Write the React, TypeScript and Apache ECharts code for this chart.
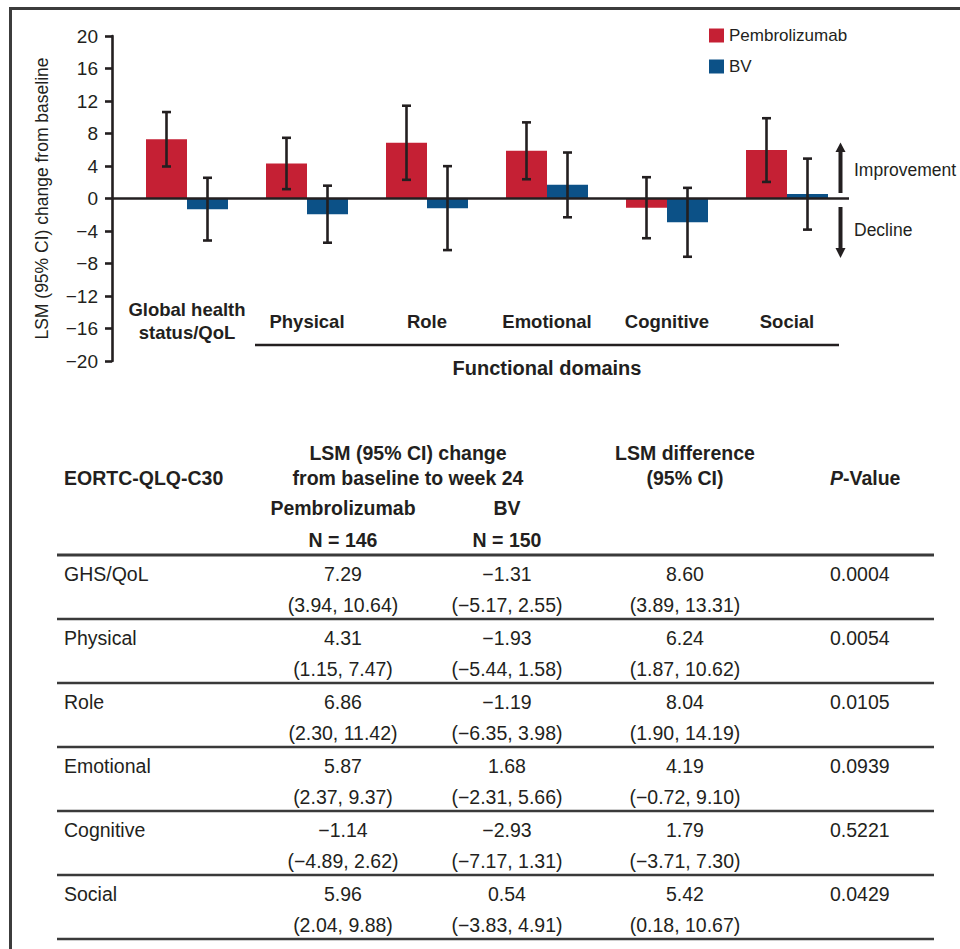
import React, { useEffect, useRef } from "react";
import * as echarts from "echarts";

const categories = ["Global health\nstatus/QoL", "Physical", "Role", "Emotional", "Cognitive", "Social"];
const tableLabels = ["GHS/QoL", "Physical", "Role", "Emotional", "Cognitive", "Social"];
const pembroMean = [7.29, 4.31, 6.86, 5.87, -1.14, 5.96];
const pembroLow = [3.94, 1.15, 2.3, 2.37, -4.89, 2.04];
const pembroHigh = [10.64, 7.47, 11.42, 9.37, 2.62, 9.88];
const bvMean = [-1.31, -1.93, -1.19, 1.68, -2.93, 0.54];
const bvLow = [-5.17, -5.44, -6.35, -2.31, -7.17, -3.83];
const bvHigh = [2.55, 1.58, 3.98, 5.66, 1.31, 4.91];
const diffMean = [8.6, 6.24, 8.04, 4.19, 1.79, 5.42];
const diffLow = [3.89, 1.87, 1.9, -0.72, -3.71, 0.18];
const diffHigh = [13.31, 10.62, 14.19, 9.1, 7.3, 10.67];
const pValues = ["0.0004", "0.0054", "0.0105", "0.0939", "0.5221", "0.0429"];
const yMin = -20;
const yMax = 20;
const yStep = 4;

const RED = "#c52034";
const BLUE = "#0c5187";
const INK = "#231f20";
const FONT = "'Liberation Sans', Arial, Helvetica, sans-serif";
const BAR_W = 41;

const fmt = (v: number) => (v < 0 ? "\u2212" : "") + Math.abs(v).toFixed(2);

function errorRender(offset: number) {
  return (params: any, api: any) => {
    const c = api.value(0);
    const lo = api.coord([c, api.value(1)]);
    const hi = api.coord([c, api.value(2)]);
    const x = lo[0] + offset;
    const st = { stroke: INK, lineWidth: 2.6 };
    return {
      type: "group",
      children: [
        { type: "line", shape: { x1: x, y1: lo[1], x2: x, y2: hi[1] }, style: st },
        { type: "line", shape: { x1: x - 4.5, y1: lo[1], x2: x + 4.5, y2: lo[1] }, style: st },
        { type: "line", shape: { x1: x - 4.5, y1: hi[1], x2: x + 4.5, y2: hi[1] }, style: st },
      ],
    };
  };
}

export default function App() {
  const ref = useRef<HTMLDivElement>(null);
  useEffect(() => {
    const chart = echarts.init(ref.current as HTMLDivElement, null, { renderer: "svg" });
    const option: any = {
      animation: false,
      backgroundColor: "#ffffff",
      textStyle: { fontFamily: FONT },
      grid: { left: 127, right: 113, top: 36, bottom: 588, containLabel: false },
      legend: {
        data: ["Pembrolizumab", "BV"],
        orient: "vertical",
        left: 709,
        top: 27,
        itemWidth: 15,
        itemHeight: 14,
        itemGap: 14,
        padding: 0,
        icon: "rect",
        textStyle: { fontSize: 17, color: INK, fontFamily: FONT },
      },
      xAxis: {
        type: "category",
        data: categories,
        axisLine: { show: false, onZero: false },
        axisTick: { show: false },
        axisLabel: {
          margin: -40,
          verticalAlign: "middle",
          fontSize: 18.5,
          fontWeight: "bold",
          color: INK,
          lineHeight: 23,
          fontFamily: FONT,
          interval: 0,
        },
        splitLine: { show: false },
      },
      yAxis: {
        type: "value",
        min: yMin,
        max: yMax,
        interval: yStep,
        offset: 15,
        name: "LSM (95% CI) change from baseline",
        nameLocation: "middle",
        nameGap: 61,
        nameTextStyle: { fontSize: 17.5, color: INK, fontFamily: FONT },
        axisLine: { show: true, lineStyle: { color: INK, width: 2.6 } },
        axisTick: { show: true, length: 7, lineStyle: { color: INK, width: 2.6 } },
        axisLabel: {
          margin: 14,
          fontSize: 19,
          color: INK,
          fontFamily: FONT,
          formatter: (v: number) => (v < 0 ? "\u2212" + Math.abs(v) : String(v)),
        },
        splitLine: { show: false },
      },
      series: [
        {
          name: "Pembrolizumab",
          type: "bar",
          data: pembroMean,
          barWidth: BAR_W,
          barGap: "0%",
          itemStyle: { color: RED },
          z: 2,
        },
        {
          name: "BV",
          type: "bar",
          data: bvMean,
          barWidth: BAR_W,
          barGap: "0%",
          itemStyle: { color: BLUE },
          z: 2,
        },
        {
          name: "Pembrolizumab CI",
          type: "custom",
          renderItem: errorRender(-BAR_W / 2),
          data: pembroMean.map((_, i) => [i, pembroLow[i], pembroHigh[i]]),
          encode: { x: 0, y: [1, 2] },
          z: 5,
        },
        {
          name: "BV CI",
          type: "custom",
          renderItem: errorRender(BAR_W / 2),
          data: bvMean.map((_, i) => [i, bvLow[i], bvHigh[i]]),
          encode: { x: 0, y: [1, 2] },
          z: 5,
        },
      ],
    };
    chart.setOption(option);

    const zeroY = chart.convertToPixel({ yAxisIndex: 0 }, 0) as number;
    const cx1 = chart.convertToPixel({ xAxisIndex: 0 }, 1) as number;
    const cx5 = chart.convertToPixel({ xAxisIndex: 0 }, 5) as number;

    const txt = (text: string, x: number, y: number, o: any = {}) => ({
      type: "text",
      style: {
        text,
        x,
        y,
        fill: INK,
        fontFamily: FONT,
        fontSize: 19.5,
        align: "center",
        verticalAlign: "middle",
        ...o,
      },
      z: 10,
    });
    const hline = (x1: number, x2: number, y: number, w = 2.6, c = "#3a3a3a") => ({
      type: "line",
      shape: { x1, y1: y, x2, y2: y },
      style: { stroke: c, lineWidth: w },
      z: 10,
    });

    const g: any[] = [];
    // frame
    g.push({ type: "line", shape: { x1: 9, y1: 8.5, x2: 960, y2: 8.5 }, style: { stroke: "#3c3c3c", lineWidth: 3 } });
    g.push({ type: "line", shape: { x1: 10.5, y1: 7, x2: 10.5, y2: 949 }, style: { stroke: "#3c3c3c", lineWidth: 3 } });
    // zero line full width
    g.push(hline(112, 849, zeroY, 2.6, INK));
    // bracket under functional domains
    g.push(hline(cx1 - 52, cx5 + 52, 345, 2.6, INK));
    g.push(txt("Functional domains", (cx1 - 52 + cx5 + 52) / 2, 368, { fontWeight: "bold", fontSize: 20 }));
    // arrows
    const ax = 840.5;
    g.push({ type: "rect", shape: { x: ax - 2, y: 150, width: 4, height: 43 }, style: { fill: INK }, z: 10 });
    g.push({ type: "polygon", shape: { points: [[ax - 5, 152], [ax + 5, 152], [ax, 142.5]] }, style: { fill: INK }, z: 10 });
    g.push({ type: "rect", shape: { x: ax - 2, y: 207, width: 4, height: 43 }, style: { fill: INK }, z: 10 });
    g.push({ type: "polygon", shape: { points: [[ax - 5, 248], [ax + 5, 248], [ax, 258]] }, style: { fill: INK }, z: 10 });
    g.push(txt("Improvement", 854, 170, { align: "left", fontSize: 17.5 }));
    g.push(txt("Decline", 854, 230, { align: "left", fontSize: 17.5 }));

    // table header
    const colP = 343;
    const colB = 507;
    const colD = 685;
    const colV = 830;
    const hb = { fontWeight: "bold", fontSize: 19.5 };
    g.push(txt("LSM (95% CI) change", 408, 453, hb));
    g.push(txt("from baseline to week 24", 408, 478, hb));
    g.push(txt("LSM difference", colD, 453, hb));
    g.push(txt("(95% CI)", colD, 478, hb));
    g.push(txt("EORTC-QLQ-C30", 64, 478, { ...hb, align: "left" }));
    g.push(
      txt("{i|P}-Value", colV, 478, {
        ...hb,
        align: "left",
        rich: { i: { fontStyle: "italic", fontWeight: "bold", fontSize: 19.5, fontFamily: FONT, fill: INK } },
      })
    );
    g.push(txt("Pembrolizumab", colP, 508, hb));
    g.push(txt("BV", colB, 508, hb));
    g.push(txt("N = 146", colP, 540, hb));
    g.push(txt("N = 150", colB, 540, hb));

    // table body
    const top = 555;
    const rowH = 64;
    for (let i = 0; i <= tableLabels.length; i++) {
      g.push(hline(57, 934, top + i * rowH, i === 0 ? 3 : 2.6));
    }
    tableLabels.forEach((lab, i) => {
      const y1 = top + 19 + i * rowH;
      const y2 = top + 50 + i * rowH;
      g.push(txt(lab, 64, y1, { align: "left" }));
      g.push(txt(fmt(pembroMean[i]), colP, y1));
      g.push(txt("(" + fmt(pembroLow[i]) + ", " + fmt(pembroHigh[i]) + ")", colP, y2));
      g.push(txt(fmt(bvMean[i]), colB, y1));
      g.push(txt("(" + fmt(bvLow[i]) + ", " + fmt(bvHigh[i]) + ")", colB, y2));
      g.push(txt(fmt(diffMean[i]), colD, y1));
      g.push(txt("(" + fmt(diffLow[i]) + ", " + fmt(diffHigh[i]) + ")", colD, y2));
      g.push(txt(pValues[i], colV, y1, { align: "left" }));
    });

    chart.setOption({ graphic: g });
    return () => chart.dispose();
  }, []);
  return (
    <div
      ref={ref}
      style={{ position: "absolute", left: 0, top: 0, width: 960, height: 949, background: "#fff" }}
    />
  );
}
